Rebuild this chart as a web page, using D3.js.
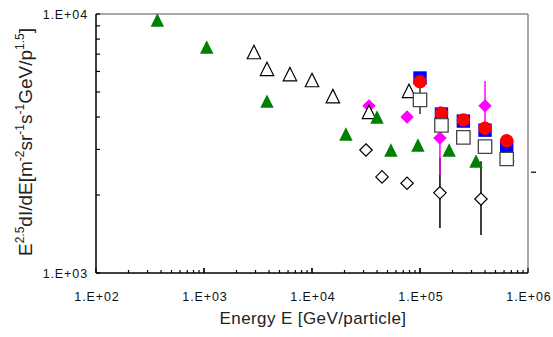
<!DOCTYPE html>
<html>
<head>
<meta charset="utf-8">
<script src="https://cdn.jsdelivr.net/npm/d3@7"></script>
<style>
  body { margin: 0; background: #fff; }
  svg { display: block; font-family: "Liberation Sans", Arial, sans-serif; }
</style>
</head>
<body>
<svg id="chart" width="553" height="337"></svg>
<script>
// energies [GeV/particle] and E^2.5 dI/dE values
var greenE = [370, 1060, 3830, 20600, 40000, 53800, 95700, 186000, 330000, 653000];
var greenF = [9480, 7460, 4610, 3440, 4000, 2985, 3120, 2985, 2705, 2860];

var openTriE = [2900, 3830, 6250, 10000, 15600, 33700, 79100];
var openTriF = [7130, 6140, 5860, 5560, 4820, 4190, 5050];

var openDiaE = [31600, 44500, 75900, 153000, 367000];
var openDiaF = [2985, 2350, 2220, 2040, 1930];
var openDiaLo = [null, null, null, 1493, 1403];
var openDiaHi = [null, null, null, 2790, 2700];

var magE = [33700, 75900, 153000, 400000];
var magF = [4420, 4000, 3320, 4420];
var magLo = [null, null, 2390, 3545];
var magHi = [null, null, 4400, 5510];

var stackE = [100000, 158000, 252000, 400000, 635000];
var blueF = [5660, 4110, 3860, 3560, 3090];
var redF = [5480, 4140, 3900, 3620, 3240];
var whiteF = [4660, 3715, 3340, 3076, 2755];
var whiteLo = [4110, null, null, null, null];
var whiteHi = [5240, null, null, null, null];

var xDecades = [1e2, 1e3, 1e4, 1e5, 1e6];
var yDecades = [1e3, 1e4];

(function() {
var svg = d3.select("#chart");
var x0 = 96, x1 = 528, y0 = 14, y1 = 273;

var x = d3.scaleLog().domain([1e2, 1e6]).range([x0, x1]);
var y = d3.scaleLog().domain([1e3, 1e4]).range([y1, y0]);

function sci(d) {
	var p = Math.round(Math.log10(d));
	return "1.E+" + (p < 10 ? "0" : "") + p;
}

// frame: gray top/right, black left/bottom
svg.append("line").attr("x1", x0).attr("x2", x1).attr("y1", y0).attr("y2", y0)
	.attr("stroke", "#8c8c8c").attr("stroke-width", 1.5);
svg.append("line").attr("x1", x1).attr("x2", x1).attr("y1", y0).attr("y2", y1)
	.attr("stroke", "#8c8c8c").attr("stroke-width", 1.5);

// minor ticks
var xMinor = [];
for (var dec = 100; dec < 1e6; dec *= 10)
	for (var k = 1; k <= 10; k++) xMinor.push(dec * k);
svg.append("g").selectAll("line").data(xMinor).join("line")
	.attr("x1", function(d) { return x(d); }).attr("x2", function(d) { return x(d); })
	.attr("y1", y1).attr("y2", function(d) { return xDecades.indexOf(d) >= 0 ? y1 - 5 : y1 - 3; })
	.attr("stroke", "#000").attr("stroke-width", 1.2);

var yMinor = [];
for (var k = 1; k <= 10; k++) yMinor.push(1000 * k);
svg.append("g").selectAll("line").data(yMinor).join("line")
	.attr("x1", x0).attr("x2", x0 + 4)
	.attr("y1", function(d) { return y(d); }).attr("y2", function(d) { return y(d); })
	.attr("stroke", "#000").attr("stroke-width", 1.2);

svg.append("line").attr("x1", x0).attr("x2", x0).attr("y1", y0).attr("y2", y1)
	.attr("stroke", "#000").attr("stroke-width", 1.5);
svg.append("line").attr("x1", x0).attr("x2", x1).attr("y1", y1).attr("y2", y1)
	.attr("stroke", "#000").attr("stroke-width", 1.5);

// tick labels
svg.append("g").selectAll("text").data(xDecades).join("text")
	.attr("x", function(d) { return x(d) + 1; }).attr("y", 301)
	.attr("text-anchor", "middle").attr("font-size", "12.5px").attr("letter-spacing", "0.9px")
	.attr("fill", "#111").text(sci);
svg.append("g").selectAll("text").data(yDecades).join("text")
	.attr("x", 88).attr("y", function(d) { return y(d) + 5; })
	.attr("text-anchor", "end").attr("font-size", "12.5px").attr("letter-spacing", "0.9px")
	.attr("fill", "#111").text(sci);

// axis titles
svg.append("text").attr("x", 313).attr("y", 324).attr("text-anchor", "middle")
	.attr("font-size", "17px").attr("letter-spacing", "0.4px").attr("fill", "#222")
	.text("Energy E [GeV/particle]");

var yt = svg.append("text").attr("transform", "translate(32,142) rotate(-90)")
	.attr("text-anchor", "middle").attr("font-size", "19px").attr("fill", "#222");
var raised = false;
[["E", 0], ["2.5", 1], ["dI/dE[m", 0], ["-2", 1], ["sr", 0], ["-1", 1], ["s", 0], ["-1", 1],
 ["GeV/p", 0], ["1.5", 1], ["]", 0]].forEach(function(p) {
	var up = p[1] === 1;
	var dy = up === raised ? 0 : (up ? -8 : 8);
	raised = up;
	yt.append("tspan").attr("font-size", up ? "12px" : "19px")
		.attr("dy", dy).text(p[0]);
});

// small stray dash right of the frame
svg.append("line").attr("x1", x1 + 3).attr("x2", x1 + 8)
	.attr("y1", y(2450)).attr("y2", y(2450)).attr("stroke", "#000").attr("stroke-width", 1.2);

// marker shapes
var h = 6.7;
function tri(cx, cy) { return "M" + cx + "," + (cy - h) + "L" + (cx + h) + "," + (cy + h) + "L" + (cx - h) + "," + (cy + h) + "Z"; }
function sq(cx, cy) { return "M" + (cx - h) + "," + (cy - h) + "h" + 2 * h + "v" + 2 * h + "h" + (-2 * h) + "Z"; }
function dia(cx, cy, s) { return "M" + cx + "," + (cy - s) + "L" + (cx + s) + "," + cy + "L" + cx + "," + (cy + s) + "L" + (cx - s) + "," + cy + "Z"; }

function errBars(E, lo, hi, color, w) {
	var idx = d3.range(E.length).filter(function(i) { return lo[i] != null; });
	svg.append("g").selectAll("line").data(idx).join("line")
		.attr("x1", function(i) { return x(E[i]); }).attr("x2", function(i) { return x(E[i]); })
		.attr("y1", function(i) { return y(lo[i]); }).attr("y2", function(i) { return y(hi[i]); })
		.attr("stroke", color).attr("stroke-width", w);
}

function points(E, F, shape, fill, stroke, sw) {
	svg.append("g").selectAll("path").data(d3.range(E.length)).join("path")
		.attr("d", function(i) { return shape(x(E[i]), y(F[i])); })
		.attr("fill", fill).attr("stroke", stroke).attr("stroke-width", sw);
}

errBars(openDiaE, openDiaLo, openDiaHi, "#000", 1.5);
points(openDiaE, openDiaF, function(cx, cy) { return dia(cx, cy, 6.2); }, "#fff", "#000", 1.2);
errBars(magE, magLo, magHi, "#ff00ff", 1.5);
points(magE, magF, function(cx, cy) { return dia(cx, cy, 6.7); }, "#ff00ff", "none", 0);
points(openTriE, openTriF, tri, "#fff", "#000", 1.2);
points(greenE, greenF, tri, "#008000", "none", 0);
errBars(stackE, whiteLo, whiteHi, "#333", 1.5);
points(stackE, blueF, sq, "#0000ff", "none", 0);
svg.append("g").selectAll("circle").data(d3.range(stackE.length)).join("circle")
	.attr("cx", function(i) { return x(stackE[i]); }).attr("cy", function(i) { return y(redF[i]); })
	.attr("r", 6.7).attr("fill", "#ff0000");
points(stackE, whiteF, sq, "#fff", "#444", 1.3);
})();
</script>
</body>
</html>
